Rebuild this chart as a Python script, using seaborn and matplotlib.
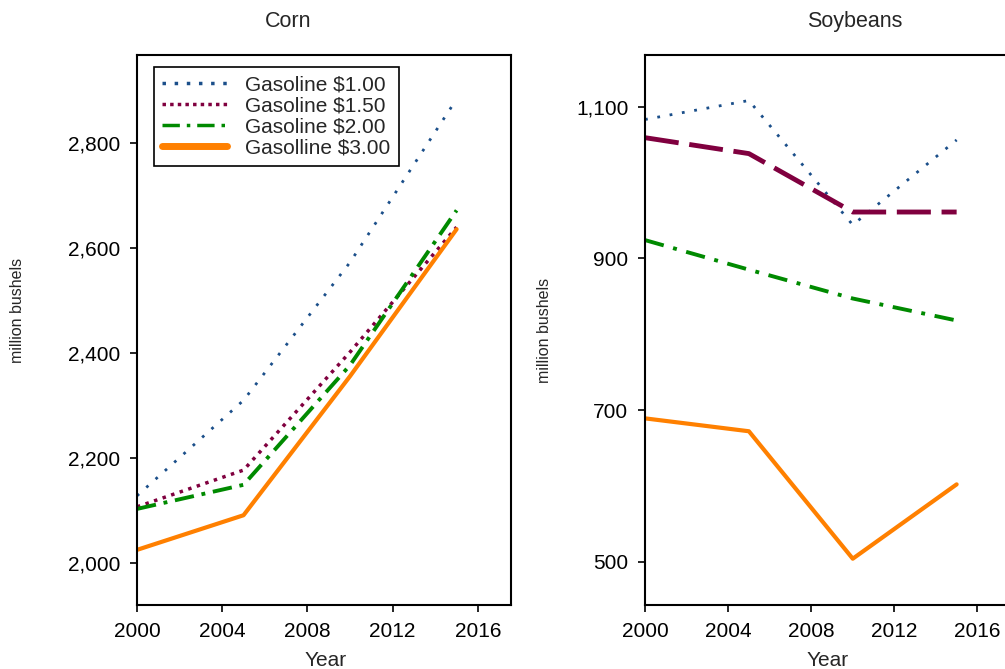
import pandas as pd
import matplotlib.pyplot as plt
import seaborn as sns
from matplotlib.lines import Line2D

years = [2000, 2005, 2010, 2015]
series_labels = ['Gasoline $1.00', 'Gasoline $1.50', 'Gasoline $2.00', 'Gasolline $3.00']

corn_100 = [2128, 2310, 2573, 2884]
corn_150 = [2107, 2177, 2402, 2640]
corn_200 = [2103, 2149, 2377, 2672]
corn_300 = [2025, 2091, 2356, 2636]

soy_100 = [1083, 1108, 944, 1056]
soy_150 = [1059, 1038, 961, 961]
soy_200 = [924, 885, 847, 818]
soy_300 = [689, 672, 504, 602]

colors = ['#1b4f8a', '#80003f', '#008a00', '#ff8000']

sns.set_style("ticks")
plt.rcParams['font.family'] = ['Liberation Sans', 'DejaVu Sans']

fig = plt.figure(figsize=(10.05, 6.69), dpi=100)
ax1 = fig.add_axes([0.1363, 0.0957, 0.3721, 0.8221])
ax2 = fig.add_axes([0.6418, 0.0957, 0.3721, 0.8221])

# --- Corn ---
corn_styles = [((0, (1, 3.5)), 2.0), ((0, (1, 1.6)), 2.5), ((0, (5, 2, 1, 2)), 2.8), ('-', 3.0)]
for vals, col, (ls, lw) in zip([corn_100, corn_150, corn_200, corn_300], colors, corn_styles):
    df = pd.DataFrame({'year': years, 'value': vals})
    sns.lineplot(data=df, x='year', y='value', ax=ax1, color=col, linestyle=ls, linewidth=lw)

# --- Soybeans ---
soy_styles = [((0, (1, 3.5)), 2.0), ((0, (7, 2.2)), 3.5), ((0, (5, 2.5, 1, 2.5)), 2.8), ('-', 3.0)]
for vals, col, (ls, lw) in zip([soy_100, soy_150, soy_200, soy_300], colors, soy_styles):
    df = pd.DataFrame({'year': years, 'value': vals})
    sns.lineplot(data=df, x='year', y='value', ax=ax2, color=col, linestyle=ls, linewidth=lw)

ax1.set_xlim(2000, 2017.55)
ax1.set_ylim(1920, 2968)
ax1.set_yticks([2000, 2200, 2400, 2600, 2800])
ax2.set_xlim(2000, 2018)
ax2.set_ylim(443, 1168)
ax2.set_yticks([500, 700, 900, 1100])

for ax in (ax1, ax2):
    ax.set_xticks([2000, 2004, 2008, 2012, 2016])
    ax.yaxis.set_major_formatter(plt.FuncFormatter(lambda v, p: f'{int(v):,}'))
    ax.tick_params(direction='out', length=5, width=1.2, labelsize=15, colors='black', pad=7)
    for sp in ax.spines.values():
        sp.set_visible(True)
        sp.set_color('black')
        sp.set_linewidth(1.5)
    ax.set_xlabel('Year', fontsize=15)
    ax.set_ylabel('million bushels', fontsize=11.5)

ax1.yaxis.set_label_coords(-0.30, 0.535)
ax2.yaxis.set_label_coords(-0.249, 0.5)
ax1.xaxis.set_label_coords(0.503, -0.083)
ax2.xaxis.set_label_coords(0.489, -0.083)

ax1.text(0.404, 1.06, 'Corn', transform=ax1.transAxes, ha='center', va='center', fontsize=15.5)
ax2.text(0.56, 1.06, 'Soybeans', transform=ax2.transAxes, ha='center', va='center', fontsize=15.5)

handles = [
    Line2D([], [], color=colors[0], linestyle=(0, (1, 2.5)), linewidth=2.5),
    Line2D([], [], color=colors[1], linestyle=(0, (1, 1.2)), linewidth=2.5),
    Line2D([], [], color=colors[2], linestyle=(0, (5, 2, 1, 2)), linewidth=2.5),
    Line2D([], [], color=colors[3], linestyle='-', linewidth=5),
]
leg = ax1.legend(handles, series_labels, loc='upper left', bbox_to_anchor=(0.045, 0.978),
                 borderaxespad=0, fontsize=15, handlelength=3.1, labelspacing=0.1,
                 handletextpad=0.9, fancybox=False, framealpha=1, borderpad=0.4)
leg.get_frame().set_edgecolor('black')
leg.get_frame().set_linewidth(1.2)

fig.savefig('out.png', dpi=100)
